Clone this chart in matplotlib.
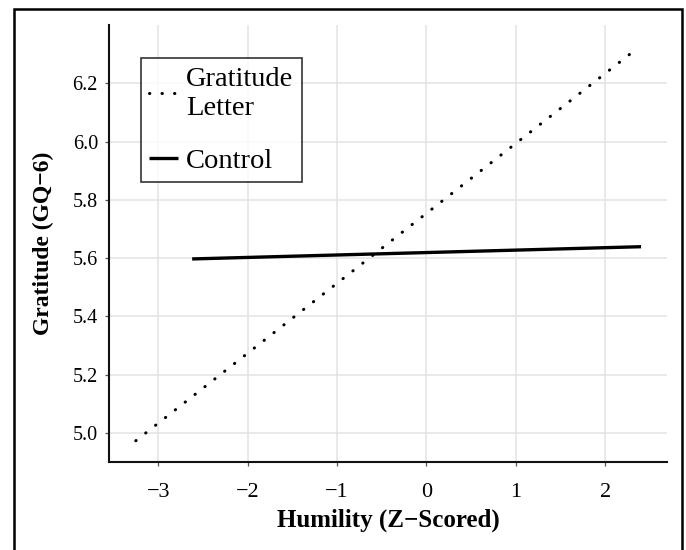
import numpy as np
import matplotlib
matplotlib.use("Agg")
import matplotlib.pyplot as plt
from matplotlib.patches import Rectangle

plt.rcParams['font.family'] = ['Liberation Serif', 'DejaVu Serif']

# fitted lines (endpoints)
conditions = ["Gratitude\nLetter", "Control"]
humility_x = {"Gratitude\nLetter": [-3.25, 2.35], "Control": [-2.62, 2.40]}
gratitude_y = {"Gratitude\nLetter": [4.973, 6.318], "Control": [5.597, 5.639]}

x_ticks = [-3, -2, -1, 0, 1, 2]
y_ticks = [5.0, 5.2, 5.4, 5.6, 5.8, 6.0, 6.2]

fig = plt.figure(figsize=(6.86, 5.5), dpi=100)
ax = fig.add_axes([109/686, 88/550, 558/686, 437/550])

styles = {
    "Gratitude\nLetter": dict(color='black', lw=2.2, linestyle=(0, (0.1, 4)),
                              dash_capstyle='round'),
    "Control": dict(color='black', lw=2.4, solid_capstyle='butt'),
}
for cond in conditions:
    ax.plot(humility_x[cond], gratitude_y[cond], label=cond, **styles[cond])

ax.set_xlim(-3.55, 2.69)
ax.set_ylim(4.90, 6.40)
ax.set_xticks(x_ticks)
ax.set_yticks(y_ticks)
ax.set_yticklabels(["%.1f" % v for v in y_ticks])
ax.grid(True, color='#e3e3e3', lw=1.1)
ax.set_axisbelow(True)

for s in ['top', 'right']:
    ax.spines[s].set_visible(False)
for s in ['left', 'bottom']:
    ax.spines[s].set_linewidth(1.5)
    ax.spines[s].set_color('#111111')

ax.tick_params(axis='both', labelsize=14.5, length=3, width=0.9,
               color='#555555', pad=5)
ax.tick_params(axis='x', labelsize=16, pad=12)

ax.set_xlabel("Humility (Z\u2212Scored)", fontsize=18, fontweight='bold',
              labelpad=5)
ax.set_ylabel("Gratitude (GQ\u22126)", fontsize=17, fontweight='bold',
              labelpad=13)

leg = ax.legend(loc='upper left', bbox_to_anchor=(0.057, 0.924),
                borderaxespad=0, fontsize=20.5, frameon=True, fancybox=False,
                handlelength=1.0, handletextpad=0.3, labelspacing=0.95,
                borderpad=0.3)
leg.get_frame().set_edgecolor('black')
leg.get_frame().set_linewidth(1.2)

# outer border around the figure
fig.patches.append(Rectangle((14/686, -0.01), 668/686, 1 - 9/550 + 0.01,
                             transform=fig.transFigure, fill=False,
                             edgecolor='black', lw=1.8, zorder=10))

fig.savefig("out.png", dpi=100)
